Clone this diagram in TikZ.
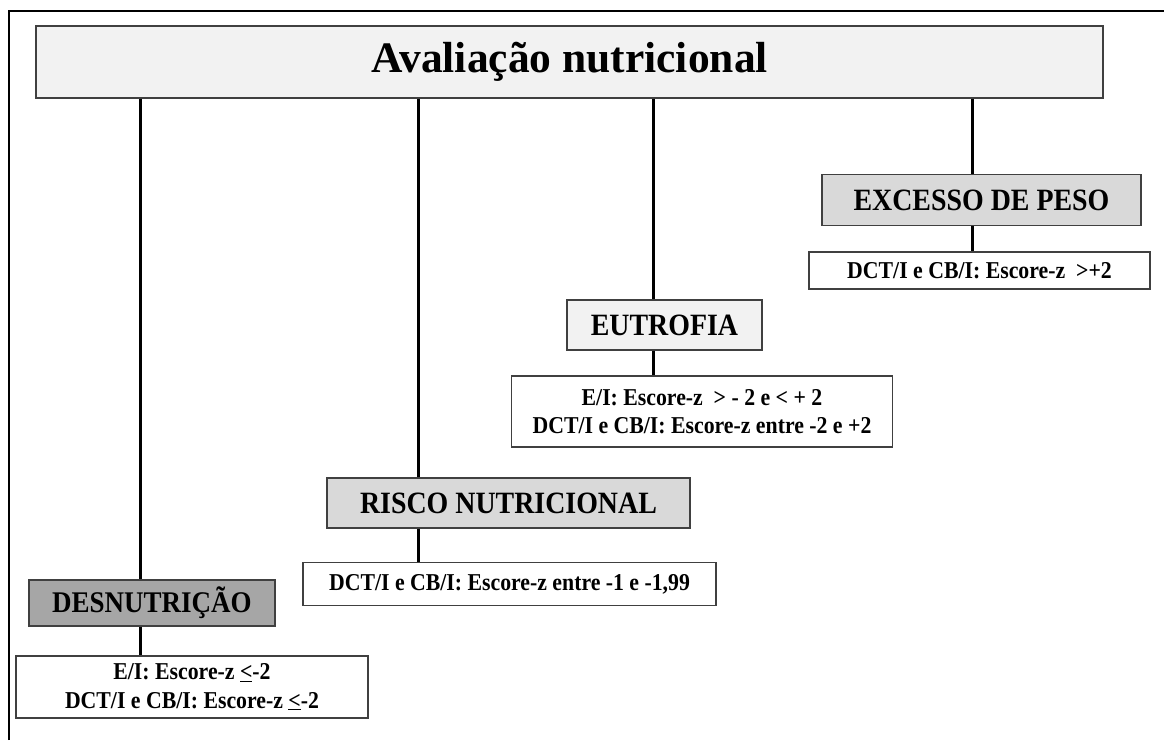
\documentclass[tikz,border=0pt]{standalone}
\usepackage{fontspec}
\setmainfont{Liberation Serif}
\newfontfamily\condfont[FakeStretch=0.9]{Liberation Serif}
\definecolor{lightg}{HTML}{F2F2F2}
\definecolor{midg}{HTML}{D9D9D9}
\definecolor{darkg}{HTML}{A6A6A6}
\definecolor{edge}{HTML}{404040}
\begin{document}
\begin{tikzpicture}[x=1pt,y=-1pt,
  box/.style={draw=edge, line width=1.3pt, inner sep=0pt, align=center, font=\bfseries},
  head/.style={box, font=\condfont\bfseries\fontsize{31}{34}\selectfont},
  crit/.style={box, fill=white, font=\condfont\bfseries\fontsize{24.2}{28.5}\selectfont},
  conn/.style={line width=3pt, black}]
\useasboundingbox (0,0) rectangle (1164,740);
\fill[white] (0,0) rectangle (1164,740);
\draw[line width=2pt] (9,740) -- (9,11) -- (1164,11);

\node[box, fill=lightg, minimum width=1067pt, minimum height=72pt,
  font=\bfseries\fontsize{43.5}{50}\selectfont] (title) at (569.5,62) {Avaliação nutricional};

\node[head, fill=darkg, minimum width=246pt, minimum height=46pt,
  font=\condfont\bfseries\fontsize{30}{34}\selectfont] (desn) at (152,603) {DESNUTRIÇÃO};
\node[crit, minimum width=352pt, minimum height=62pt] (desnc) at (192,687)
  {E/I: Escore-z \underline{<}-2\\DCT/I e CB/I: Escore-z \underline{<}-2};

\node[head, fill=midg, minimum width=363pt, minimum height=50pt] (risco) at (508.5,503) {RISCO NUTRICIONAL};
\node[crit, minimum width=413pt, minimum height=43pt] (riscoc) at (509.5,584)
  {DCT/I e CB/I: Escore-z entre -1 e -1,99};

\node[head, fill=lightg, minimum width=195pt, minimum height=50pt] (eut) at (664.5,325) {EUTROFIA};
\node[crit, minimum width=381pt, minimum height=71pt] (eutc) at (702,411.5)
  {E/I: Escore-z \ > - 2 e < + 2\\DCT/I e CB/I: Escore-z entre -2 e +2};

\node[head, fill=midg, minimum width=319pt, minimum height=51pt] (exc) at (981.5,200) {EXCESSO DE PESO};
\node[crit, minimum width=341pt, minimum height=37pt] (excc) at (979.5,270.5)
  {DCT/I e CB/I: Escore-z \ >+2};

\coordinate (xd) at (140,0);
\coordinate (xr) at (418,0);
\coordinate (xe) at (653,0);
\coordinate (xx) at (972,0);

\draw[conn] (title.south -| xd) -- (desn.north -| xd);
\draw[conn] (desn.south -| xd) -- (desnc.north -| xd);
\draw[conn] (title.south -| xr) -- (risco.north -| xr);
\draw[conn] (risco.south -| xr) -- (riscoc.north -| xr);
\draw[conn] (title.south -| xe) -- (eut.north -| xe);
\draw[conn] (eut.south -| xe) -- (eutc.north -| xe);
\draw[conn] (title.south -| xx) -- (exc.north -| xx);
\draw[conn] (exc.south -| xx) -- (excc.north -| xx);
\end{tikzpicture}
\end{document}
